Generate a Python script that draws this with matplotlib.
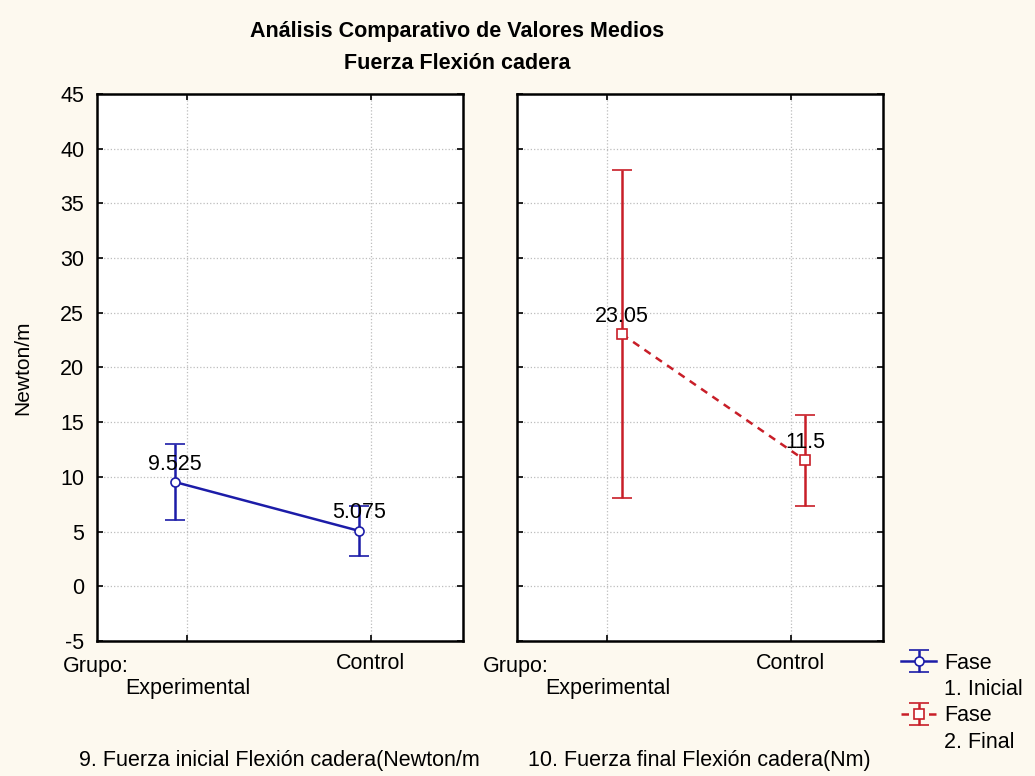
import matplotlib
matplotlib.use('Agg')
import matplotlib.pyplot as plt
from matplotlib.lines import Line2D
import numpy as np

plt.rcParams['font.family'] = ['Liberation Sans', 'DejaVu Sans']
plt.rcParams['axes.unicode_minus'] = False

# Medias e intervalos por grupo
grupos = ['Experimental', 'Control']
inicial_media = [9.525, 5.075]
inicial_inf = [6.03, 2.78]
inicial_sup = [13.03, 7.37]
final_media = [23.05, 11.5]
final_inf = [8.07, 7.34]
final_sup = [38.03, 15.66]
yticks = [-5, 0, 5, 10, 15, 20, 25, 30, 35, 40, 45]

AZUL = '#1c1ca8'
ROJO = '#c81e28'
FONDO = '#fdf9ef'
FS = 15.5

fig = plt.figure(figsize=(10.35, 7.76), dpi=100, facecolor=FONDO)
ax1 = fig.add_axes([0.0934, 0.174, 0.3536, 0.7049])
ax2 = fig.add_axes([0.4992, 0.174, 0.3536, 0.7049], sharey=ax1)

x = np.arange(len(grupos))


def panel(ax, media, inf, sup, color, marker, ms, ls, dx):
    media = np.array(media)
    err = [media - np.array(inf), np.array(sup) - media]
    cont = ax.errorbar(x + dx, media, yerr=err, color=color, ecolor=color,
                       marker=marker, ms=ms, mfc='white', mec=color, mew=1.2,
                       linestyle=ls, lw=1.8, elinewidth=1.8, capsize=7,
                       capthick=1.8, zorder=3)
    for xi, yi in zip(x + dx, media):
        ax.annotate(f'{yi:g}', (xi, yi), xytext=(0, 13), textcoords='offset points',
                    ha='center', va='center', fontsize=FS, zorder=4)
    ax.set_xlim(-0.495, 1.5)
    ax.set_ylim(-5, 45)
    ax.set_yticks(yticks)
    ax.set_xticks(x)
    ax.set_xticklabels(['\n' + grupos[0], grupos[1]], fontsize=FS)
    ax.tick_params(direction='in', length=4, width=1.2, top=True, right=True,
                   labelsize=FS, pad=9)
    ax.grid(True, linestyle=':', color='#bdbdbd', lw=0.9)
    ax.set_axisbelow(True)
    for s in ax.spines.values():
        s.set_linewidth(1.8)
    ax.text(-0.093, -0.0475, 'Grupo:', transform=ax.transAxes, ha='left',
            va='center', fontsize=FS)
    return cont


c1 = panel(ax1, inicial_media, inicial_inf, inicial_sup, AZUL, 'o', 6.5, '-', -0.067)
c2 = panel(ax2, final_media, final_inf, final_sup, ROJO, 's', 7.5, (0, (3, 2.5)), 0.078)
plt.setp(ax2.get_yticklabels(), visible=False)

ax1.set_ylabel('Newton/m', fontsize=15)
ax1.yaxis.set_label_coords(-0.175, 0.5)

ax1.text(0.5, -0.218, '9. Fuerza inicial Flexión cadera(Newton/m', transform=ax1.transAxes,
         ha='center', va='center', fontsize=FS)
ax2.text(0.5, -0.218, '10. Fuerza final Flexión cadera(Nm)', transform=ax2.transAxes,
         ha='center', va='center', fontsize=FS)

fig.text(0.4415, 0.9588, 'Análisis Comparativo de Valores Medios', ha='center',
         va='center', fontsize=15.5, fontweight='bold')
fig.text(0.4415, 0.9188, 'Fuerza Flexión cadera', ha='center', va='center',
         fontsize=15.5, fontweight='bold')

vacio = Line2D([], [], linestyle='none')
fig.legend([c1, vacio, c2, vacio], ['Fase', '1. Inicial', 'Fase', '2. Final'],
           loc='upper left', bbox_to_anchor=(0.862, 0.17), frameon=False,
           fontsize=FS, handlelength=1.65, handletextpad=0.37, labelspacing=0.25,
           borderaxespad=0)

fig.savefig('out.png', dpi=100, facecolor=FONDO)
